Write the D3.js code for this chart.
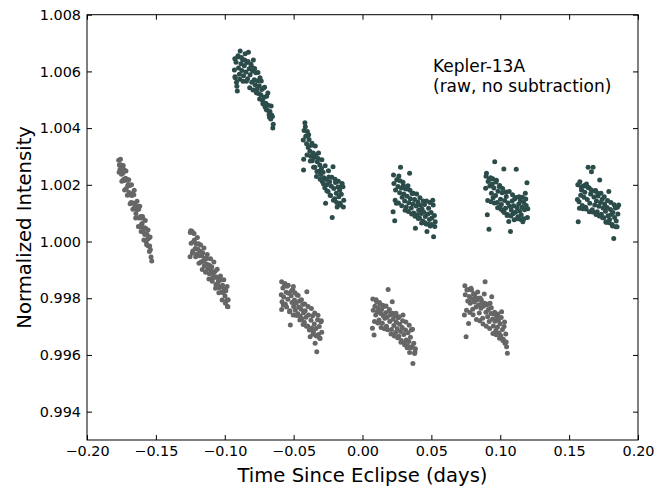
<!DOCTYPE html>
<html lang="en">
<head>
<meta charset="utf-8">
<title>Kepler-13A light curve</title>
<script src="https://cdn.jsdelivr.net/npm/d3@7"></script>
<style>
    body { margin: 0; background: #fff; }
    svg text { font-family: "DejaVu Sans", sans-serif; fill: #000; }
    .tick line { stroke: #000; }
</style>
</head>
<body>
<script>
// grey segments - [time since eclipse (days), normalized intensity]
var gray1 = [[-0.1770,1.00287],[-0.1765,1.00270],[-0.1760,1.00255],[-0.1755,1.00271],[-0.1750,1.00237],[-0.1745,1.00262],[-0.1740,1.00241],[-0.1735,1.00219],[-0.1730,1.00253],[-0.1725,1.00215],[-0.1720,1.00223],[-0.1715,1.00186],[-0.1710,1.00219],[-0.1705,1.00196],[-0.1700,1.00201],[-0.1695,1.00173],[-0.1690,1.00198],[-0.1685,1.00165],[-0.1680,1.00138],[-0.1675,1.00162],[-0.1670,1.00169],[-0.1665,1.00136],[-0.1660,1.00165],[-0.1655,1.00119],[-0.1650,1.00128],[-0.1645,1.00099],[-0.1640,1.00125],[-0.1635,1.00113],[-0.1630,1.00084],[-0.1625,1.00114],[-0.1620,1.00083],[-0.1615,1.00051],[-0.1610,1.00088],[-0.1605,1.00060],[-0.1600,1.00064],[-0.1595,1.00082],[-0.1590,1.00033],[-0.1585,1.00049],[-0.1580,1.00025],[-0.1575,1.00047],[-0.1570,0.99999],[-0.1565,1.00026],[-0.1560,1.00009],[-0.1555,0.99984],[-0.1550,1.00012],[-0.1545,0.99984],[-0.1540,0.99971],[-0.1535,0.99945],[-0.1530,0.99931],
    [-0.1767,1.00244],[-0.1757,1.00290],[-0.1747,1.00213],[-0.1737,1.00268],[-0.1727,1.00182],[-0.1717,1.00249],[-0.1707,1.00163],[-0.1697,1.00218],[-0.1687,1.00133],[-0.1677,1.00200],[-0.1667,1.00114],[-0.1657,1.00181],[-0.1647,1.00083],[-0.1637,1.00142],[-0.1627,1.00053],[-0.1617,1.00124],[-0.1607,1.00035],[-0.1597,1.00088],[-0.1587,1.00005],[-0.1577,1.00074],[-0.1567,0.99989],[-0.1557,1.00041],[-0.1547,0.99965],[-0.1542,1.00016]];
var gray2 = [[-0.1252,0.99946],[-0.1250,1.00032],[-0.1244,0.99994],[-0.1238,1.00036],[-0.1232,0.99967],[-0.1226,1.00000],[-0.1220,1.00005],[-0.1214,0.99975],[-0.1208,0.99992],[-0.1202,0.99956],[-0.1196,0.99974],[-0.1190,0.99992],[-0.1184,0.99950],[-0.1178,0.99966],[-0.1172,0.99928],[-0.1166,0.99950],[-0.1160,0.99960],[-0.1154,0.99933],[-0.1148,0.99915],[-0.1142,0.99941],[-0.1136,0.99922],[-0.1130,0.99940],[-0.1124,0.99903],[-0.1118,0.99918],[-0.1112,0.99886],[-0.1106,0.99914],[-0.1100,0.99896],[-0.1094,0.99910],[-0.1088,0.99873],[-0.1082,0.99887],[-0.1076,0.99873],[-0.1070,0.99895],[-0.1064,0.99848],[-0.1058,0.99875],[-0.1052,0.99852],[-0.1046,0.99862],[-0.1040,0.99837],[-0.1034,0.99863],[-0.1028,0.99841],[-0.1022,0.99821],[-0.1016,0.99846],[-0.1010,0.99820],[-0.1004,0.99832],[-0.0998,0.99808],[-0.0992,0.99826],[-0.0986,0.99792],[-0.0980,0.99771],[-0.0975,0.99795],
    [-0.1247,1.00038],[-0.1235,0.99959],[-0.1223,1.00028],[-0.1211,0.99946],[-0.1199,1.00014],[-0.1187,0.99923],[-0.1175,0.99988],[-0.1163,0.99901],[-0.1151,0.99977],[-0.1139,0.99892],[-0.1127,0.99954],[-0.1115,0.99868],[-0.1103,0.99939],[-0.1091,0.99860],[-0.1079,0.99928],[-0.1067,0.99835],[-0.1055,0.99902],[-0.1043,0.99819],[-0.1031,0.99878],[-0.1019,0.99794],[-0.1007,0.99865],[-0.0995,0.99782],[-0.0983,0.99841],[-0.0977,0.99770]];
var gray3 = [[-0.0590,0.99812],[-0.0587,0.99760],[-0.0584,0.99788],[-0.0578,0.99836],[-0.0572,0.99804],[-0.0566,0.99847],[-0.0560,0.99779],[-0.0554,0.99821],[-0.0548,0.99842],[-0.0542,0.99796],[-0.0536,0.99818],[-0.0530,0.99752],[-0.0524,0.99706],[-0.0518,0.99809],[-0.0512,0.99785],[-0.0506,0.99830],[-0.0502,0.99841],[-0.0500,0.99771],[-0.0494,0.99794],[-0.0488,0.99758],[-0.0482,0.99783],[-0.0476,0.99812],[-0.0470,0.99745],[-0.0464,0.99769],[-0.0458,0.99790],[-0.0452,0.99737],[-0.0446,0.99761],[-0.0440,0.99728],[-0.0434,0.99778],[-0.0428,0.99749],[-0.0422,0.99715],[-0.0416,0.99756],[-0.0410,0.99733],[-0.0404,0.99823],[-0.0398,0.99702],[-0.0392,0.99741],[-0.0386,0.99689],[-0.0380,0.99664],[-0.0374,0.99722],[-0.0368,0.99695],[-0.0362,0.99738],[-0.0356,0.99681],[-0.0350,0.99709],[-0.0344,0.99641],[-0.0338,0.99693],[-0.0332,0.99611],[-0.0326,0.99724],[-0.0320,0.99672],[-0.0314,0.99700],[-0.0308,0.99658],[-0.0302,0.99717],[-0.0296,0.99680],
    [-0.0587,0.99858],[-0.0575,0.99776],[-0.0563,0.99852],[-0.0551,0.99769],[-0.0539,0.99846],[-0.0527,0.99756],[-0.0515,0.99826],[-0.0503,0.99741],[-0.0491,0.99819],[-0.0479,0.99739],[-0.0467,0.99810],[-0.0455,0.99723],[-0.0443,0.99795],[-0.0431,0.99707],[-0.0419,0.99780],[-0.0407,0.99701],[-0.0395,0.99771],[-0.0383,0.99688],[-0.0371,0.99764],[-0.0359,0.99673],[-0.0347,0.99748],[-0.0335,0.99667],[-0.0323,0.99740],[-0.0311,0.99660],[-0.0299,0.99721]];
var gray4 = [[0.0072,0.99694],[0.0078,0.99758],[0.0084,0.99670],[0.0090,0.99772],[0.0096,0.99741],[0.0102,0.99788],[0.0108,0.99752],[0.0114,0.99765],[0.0120,0.99723],[0.0126,0.99779],[0.0132,0.99746],[0.0138,0.99760],[0.0144,0.99712],[0.0150,0.99738],[0.0156,0.99771],[0.0162,0.99729],[0.0168,0.99749],[0.0174,0.99701],[0.0180,0.99733],[0.0186,0.99831],[0.0192,0.99755],[0.0198,0.99718],[0.0204,0.99742],[0.0210,0.99690],[0.0216,0.99788],[0.0222,0.99726],[0.0228,0.99704],[0.0234,0.99737],[0.0240,0.99679],[0.0246,0.99715],[0.0252,0.99692],[0.0258,0.99731],[0.0264,0.99666],[0.0270,0.99708],[0.0276,0.99683],[0.0282,0.99651],[0.0288,0.99697],[0.0294,0.99741],[0.0300,0.99672],[0.0306,0.99636],[0.0312,0.99688],[0.0318,0.99653],[0.0324,0.99625],[0.0330,0.99678],[0.0336,0.99647],[0.0342,0.99609],[0.0348,0.99662],[0.0354,0.99688],[0.0360,0.99630],[0.0366,0.99570],[0.0372,0.99641],[0.0378,0.99605],[0.0384,0.99622],
    [0.0075,0.99797],[0.0087,0.99718],[0.0099,0.99795],[0.0111,0.99713],[0.0123,0.99785],[0.0135,0.99697],[0.0147,0.99775],[0.0159,0.99692],[0.0171,0.99773],[0.0183,0.99689],[0.0195,0.99760],[0.0207,0.99674],[0.0219,0.99747],[0.0231,0.99667],[0.0243,0.99747],[0.0255,0.99661],[0.0267,0.99735],[0.0279,0.99645],[0.0291,0.99721],[0.0303,0.99642],[0.0315,0.99716],[0.0327,0.99632],[0.0339,0.99705],[0.0351,0.99625],[0.0363,0.99691],[0.0381,0.99610]];
var gray5 = [[0.0740,0.99741],[0.0746,0.99812],[0.0752,0.99664],[0.0758,0.99829],[0.0764,0.99790],[0.0770,0.99711],[0.0776,0.99806],[0.0782,0.99782],[0.0788,0.99835],[0.0794,0.99798],[0.0800,0.99761],[0.0806,0.99815],[0.0812,0.99787],[0.0818,0.99803],[0.0824,0.99769],[0.0830,0.99794],[0.0836,0.99822],[0.0842,0.99776],[0.0848,0.99748],[0.0854,0.99801],[0.0860,0.99765],[0.0866,0.99784],[0.0872,0.99729],[0.0878,0.99772],[0.0884,0.99815],[0.0890,0.99858],[0.0896,0.99751],[0.0902,0.99777],[0.0908,0.99735],[0.0914,0.99760],[0.0920,0.99718],[0.0926,0.99782],[0.0932,0.99746],[0.0938,0.99805],[0.0944,0.99727],[0.0950,0.99702],[0.0956,0.99744],[0.0962,0.99719],[0.0968,0.99686],[0.0974,0.99735],[0.0980,0.99698],[0.0986,0.99722],[0.0992,0.99677],[0.0998,0.99710],[0.1004,0.99668],[0.1010,0.99752],[0.1016,0.99690],[0.1022,0.99655],[0.1028,0.99700],[0.1034,0.99641],[0.1040,0.99674],[0.1046,0.99629],[0.1052,0.99606],
    [0.0743,0.99844],[0.0755,0.99758],[0.0767,0.99831],[0.0779,0.99750],[0.0791,0.99829],[0.0803,0.99742],[0.0815,0.99815],[0.0827,0.99725],[0.0839,0.99800],[0.0851,0.99721],[0.0863,0.99794],[0.0875,0.99709],[0.0887,0.99782],[0.0899,0.99701],[0.0911,0.99780],[0.0923,0.99693],[0.0935,0.99766],[0.0947,0.99676],[0.0959,0.99751],[0.0971,0.99671],[0.0983,0.99744],[0.0995,0.99659],[0.1007,0.99732],[0.1019,0.99651],[0.1031,0.99716],[0.1043,0.99646]];

// dark teal segments
var teal1 = [[-0.0930,1.00605],[-0.0926,1.00581],[-0.0924,1.00578],[-0.0918,1.00632],[-0.0912,1.00548],[-0.0909,1.00531],[-0.0906,1.00651],[-0.0900,1.00612],[-0.0894,1.00590],[-0.0888,1.00672],[-0.0882,1.00627],[-0.0876,1.00603],[-0.0870,1.00641],[-0.0864,1.00585],[-0.0858,1.00620],[-0.0852,1.00662],[-0.0846,1.00598],[-0.0840,1.00631],[-0.0834,1.00574],[-0.0828,1.00668],[-0.0822,1.00609],[-0.0816,1.00588],[-0.0810,1.00625],[-0.0804,1.00562],[-0.0798,1.00601],[-0.0792,1.00640],[-0.0786,1.00571],[-0.0780,1.00553],[-0.0774,1.00595],[-0.0768,1.00537],[-0.0762,1.00567],[-0.0756,1.00522],[-0.0750,1.00549],[-0.0744,1.00578],[-0.0738,1.00518],[-0.0732,1.00536],[-0.0726,1.00497],[-0.0720,1.00541],[-0.0714,1.00509],[-0.0708,1.00475],[-0.0702,1.00488],[-0.0696,1.00512],[-0.0690,1.00463],[-0.0684,1.00481],[-0.0678,1.00448],[-0.0672,1.00459],[-0.0666,1.00432],[-0.0660,1.00446],[-0.0654,1.00441],[-0.0648,1.00414],
    [-0.0927,1.00645],[-0.0915,1.00562],[-0.0903,1.00655],[-0.0891,1.00572],[-0.0879,1.00649],[-0.0867,1.00565],[-0.0855,1.00640],[-0.0843,1.00565],[-0.0831,1.00635],[-0.0819,1.00542],[-0.0807,1.00618],[-0.0795,1.00534],[-0.0783,1.00610],[-0.0771,1.00525],[-0.0759,1.00596],[-0.0747,1.00503],[-0.0735,1.00566],[-0.0723,1.00486],[-0.0711,1.00544],[-0.0699,1.00466],[-0.0687,1.00524],[-0.0675,1.00438],[-0.0663,1.00478],[-0.0651,1.00400]];
var teal2 = [[-0.0430,1.00358],[-0.0428,1.00252],[-0.0424,1.00392],[-0.0418,1.00419],[-0.0412,1.00371],[-0.0406,1.00345],[-0.0400,1.00388],[-0.0394,1.00332],[-0.0388,1.00360],[-0.0382,1.00318],[-0.0376,1.00301],[-0.0370,1.00340],[-0.0364,1.00285],[-0.0358,1.00312],[-0.0352,1.00296],[-0.0346,1.00262],[-0.0340,1.00305],[-0.0334,1.00229],[-0.0328,1.00281],[-0.0322,1.00293],[-0.0316,1.00248],[-0.0310,1.00270],[-0.0304,1.00236],[-0.0298,1.00258],[-0.0292,1.00212],[-0.0286,1.00244],[-0.0280,1.00225],[-0.0274,1.00190],[-0.0268,1.00135],[-0.0262,1.00219],[-0.0256,1.00201],[-0.0250,1.00176],[-0.0244,1.00228],[-0.0238,1.00211],[-0.0232,1.00162],[-0.0226,1.00195],[-0.0220,1.00085],[-0.0214,1.00264],[-0.0208,1.00187],[-0.0202,1.00151],[-0.0196,1.00208],[-0.0190,1.00170],[-0.0184,1.00122],[-0.0178,1.00192],[-0.0172,1.00158],[-0.0166,1.00181],[-0.0160,1.00129],[-0.0154,1.00167],[-0.0148,1.00205],[-0.0142,1.00193],[-0.0136,1.00146],
    [-0.0427,1.00290],[-0.0415,1.00405],[-0.0403,1.00305],[-0.0391,1.00377],[-0.0379,1.00284],[-0.0367,1.00347],[-0.0355,1.00262],[-0.0343,1.00337],[-0.0331,1.00247],[-0.0319,1.00312],[-0.0307,1.00220],[-0.0295,1.00288],[-0.0283,1.00203],[-0.0271,1.00267],[-0.0259,1.00179],[-0.0247,1.00250],[-0.0235,1.00163],[-0.0223,1.00227],[-0.0211,1.00146],[-0.0199,1.00220],[-0.0187,1.00138],[-0.0175,1.00213],[-0.0163,1.00135],[-0.0151,1.00196],[-0.0139,1.00122]];
var teal3 = [[0.0222,1.00105],[0.0228,1.00205],[0.0234,1.00073],[0.0240,1.00182],[0.0246,1.00135],[0.0252,1.00218],[0.0258,1.00194],[0.0264,1.00231],[0.0270,1.00172],[0.0276,1.00262],[0.0282,1.00189],[0.0288,1.00156],[0.0294,1.00209],[0.0300,1.00168],[0.0306,1.00143],[0.0312,1.00186],[0.0318,1.00122],[0.0324,1.00160],[0.0330,1.00197],[0.0336,1.00137],[0.0342,1.00241],[0.0348,1.00151],[0.0354,1.00118],[0.0360,1.00169],[0.0366,1.00132],[0.0372,1.00101],[0.0378,1.00148],[0.0384,1.00047],[0.0390,1.00125],[0.0396,1.00094],[0.0402,1.00139],[0.0408,1.00110],[0.0414,1.00083],[0.0420,1.00128],[0.0426,1.00099],[0.0432,1.00115],[0.0438,1.00072],[0.0444,1.00104],[0.0450,1.00131],[0.0456,1.00088],[0.0462,1.00062],[0.0468,1.00035],[0.0474,1.00097],[0.0480,1.00117],[0.0486,1.00078],[0.0492,1.00055],[0.0498,1.00102],[0.0504,1.00083],[0.0510,1.00146],[0.0516,1.00017],[0.0522,1.00092],[0.0528,1.00070],
    [0.0225,1.00235],[0.0237,1.00146],[0.0249,1.00218],[0.0261,1.00136],[0.0273,1.00214],[0.0285,1.00126],[0.0297,1.00198],[0.0309,1.00110],[0.0321,1.00185],[0.0333,1.00106],[0.0345,1.00181],[0.0357,1.00097],[0.0369,1.00170],[0.0381,1.00089],[0.0393,1.00168],[0.0405,1.00081],[0.0417,1.00154],[0.0429,1.00065],[0.0441,1.00143],[0.0453,1.00066],[0.0465,1.00143],[0.0477,1.00061],[0.0489,1.00138],[0.0501,1.00060],[0.0513,1.00129],[0.0525,1.00053]];
var teal4 = [[0.0894,1.00188],[0.0900,1.00241],[0.0906,1.00094],[0.0912,1.00212],[0.0918,1.00043],[0.0924,1.00196],[0.0930,1.00225],[0.0936,1.00170],[0.0942,1.00203],[0.0948,1.00154],[0.0954,1.00189],[0.0960,1.00281],[0.0966,1.00162],[0.0972,1.00216],[0.0978,1.00138],[0.0984,1.00177],[0.0990,1.00120],[0.0996,1.00198],[0.1002,1.00149],[0.1008,1.00131],[0.1014,1.00172],[0.1020,1.00108],[0.1026,1.00256],[0.1032,1.00145],[0.1038,1.00117],[0.1044,1.00159],[0.1050,1.00092],[0.1056,1.00136],[0.1062,1.00071],[0.1068,1.00124],[0.1074,1.00035],[0.1080,1.00111],[0.1086,1.00143],[0.1092,1.00098],[0.1098,1.00126],[0.1104,1.00150],[0.1110,1.00103],[0.1116,1.00255],[0.1122,1.00119],[0.1128,1.00087],[0.1134,1.00132],[0.1140,1.00108],[0.1146,1.00145],[0.1152,1.00094],[0.1158,1.00121],[0.1164,1.00070],[0.1170,1.00138],[0.1176,1.00112],[0.1182,1.00170],[0.1188,1.00127],[0.1194,1.00207],[0.1200,1.00116],
    [0.0897,1.00230],[0.0909,1.00145],[0.0921,1.00220],[0.0933,1.00140],[0.0945,1.00221],[0.0957,1.00136],[0.0969,1.00210],[0.0981,1.00119],[0.0993,1.00194],[0.1005,1.00114],[0.1017,1.00187],[0.1029,1.00102],[0.1041,1.00175],[0.1053,1.00095],[0.1065,1.00176],[0.1077,1.00090],[0.1089,1.00165],[0.1101,1.00077],[0.1113,1.00155],[0.1125,1.00080],[0.1137,1.00158],[0.1149,1.00078],[0.1161,1.00156],[0.1173,1.00080],[0.1185,1.00150],[0.1197,1.00085]];
var teal5 = [[0.1560,1.00148],[0.1566,1.00070],[0.1572,1.00140],[0.1578,1.00211],[0.1584,1.00163],[0.1590,1.00182],[0.1596,1.00127],[0.1602,1.00195],[0.1608,1.00156],[0.1614,1.00174],[0.1620,1.00121],[0.1626,1.00203],[0.1632,1.00148],[0.1638,1.00262],[0.1644,1.00190],[0.1650,1.00135],[0.1656,1.00168],[0.1662,1.00246],[0.1668,1.00112],[0.1674,1.00262],[0.1680,1.00157],[0.1686,1.00129],[0.1692,1.00180],[0.1698,1.00143],[0.1704,1.00105],[0.1710,1.00161],[0.1716,1.00124],[0.1722,1.00217],[0.1728,1.00138],[0.1734,1.00096],[0.1740,1.00149],[0.1746,1.00118],[0.1752,1.00084],[0.1758,1.00132],[0.1764,1.00107],[0.1770,1.00068],[0.1776,1.00120],[0.1782,1.00091],[0.1788,1.00176],[0.1794,1.00078],[0.1800,1.00113],[0.1806,1.00095],[0.1812,1.00060],[0.1818,1.00102],[0.1824,1.00011],[0.1830,1.00085],[0.1836,1.00118],[0.1842,1.00072],[0.1848,1.00052],[0.1854,1.00097],[0.1860,1.00129],
    [0.1563,1.00200],[0.1575,1.00117],[0.1587,1.00193],[0.1599,1.00116],[0.1611,1.00198],[0.1623,1.00115],[0.1635,1.00191],[0.1647,1.00105],[0.1659,1.00183],[0.1671,1.00104],[0.1683,1.00178],[0.1695,1.00095],[0.1707,1.00170],[0.1719,1.00090],[0.1731,1.00170],[0.1743,1.00084],[0.1755,1.00158],[0.1767,1.00069],[0.1779,1.00145],[0.1791,1.00066],[0.1803,1.00138],[0.1815,1.00055],[0.1827,1.00130],[0.1839,1.00052],[0.1851,1.00121]];

var xTicks = [-0.20, -0.15, -0.10, -0.05, 0.00, 0.05, 0.10, 0.15, 0.20];
var yTicks = [0.994, 0.996, 0.998, 1.000, 1.002, 1.004, 1.006, 1.008];

var grayPts = [].concat(gray1, gray2, gray3, gray4, gray5);
var tealPts = [].concat(teal1, teal2, teal3, teal4, teal5);

var width = 670, height = 487;
var margin = {top: 14.7, right: 32, bottom: 47, left: 87};
var w = width - margin.left - margin.right;
var h = height - margin.top - margin.bottom;

var svg = d3.select("body").append("svg")
    .attr("width", width).attr("height", height);

var g = svg.append("g").attr("transform", "translate(" + margin.left + "," + margin.top + ")");

var x = d3.scaleLinear().domain([-0.2, 0.2]).range([0, w]);
var y = d3.scaleLinear().domain([0.993, 1.008]).range([h, 0]);

var minus = function(s) { return s.replace("-", "\u2212"); };

// points first, frame on top
g.selectAll("circle.gray").data(grayPts).enter().append("circle")
    .attr("class", "gray")
    .attr("cx", function(d) { return x(d[0]); })
    .attr("cy", function(d) { return y(d[1]); })
    .attr("r", 2.5)
    .style("fill", "#666666");

g.selectAll("circle.teal").data(tealPts).enter().append("circle")
    .attr("class", "teal")
    .attr("cx", function(d) { return x(d[0]); })
    .attr("cy", function(d) { return y(d[1]); })
    .attr("r", 2.5)
    .style("fill", "#2b4c4a");

// axes, ticks pointing inward on all four sides
var tk = 5;
g.append("g").attr("transform", "translate(0," + h + ")")
    .call(d3.axisBottom(x).tickValues(xTicks).tickSizeInner(-tk).tickSizeOuter(0).tickPadding(6)
        .tickFormat(function(d) { return minus(d3.format(".2f")(d)); }))
    .call(function(a) { a.select(".domain").remove(); a.selectAll("text").style("font-size", "14.4px"); });

g.append("g")
    .call(d3.axisTop(x).tickValues(xTicks).tickSizeInner(-tk).tickSizeOuter(0).tickFormat(""))
    .call(function(a) { a.select(".domain").remove(); });

g.append("g")
    .call(d3.axisLeft(y).tickValues(yTicks).tickSizeInner(-tk).tickSizeOuter(0).tickPadding(6)
        .tickFormat(d3.format(".3f")))
    .call(function(a) { a.select(".domain").remove(); a.selectAll("text").style("font-size", "14.4px"); });

g.append("g").attr("transform", "translate(" + w + ",0)")
    .call(d3.axisRight(y).tickValues(yTicks).tickSizeInner(-tk).tickSizeOuter(0).tickFormat(""))
    .call(function(a) { a.select(".domain").remove(); });

g.append("rect").attr("width", w).attr("height", h)
    .style("fill", "none").style("stroke", "#000").style("stroke-width", 1);

// labels
svg.append("text")
    .attr("x", margin.left + w / 2).attr("y", 482)
    .attr("text-anchor", "middle").style("font-size", "19.6px")
    .text("Time Since Eclipse (days)");

svg.append("text")
    .attr("transform", "translate(31," + (margin.top + h / 2) + ") rotate(-90)")
    .attr("text-anchor", "middle").style("font-size", "19.6px")
    .text("Normalized Intensity");

var note = svg.append("text").style("font-size", "17px");
note.append("tspan").attr("x", 433).attr("y", 72).text("Kepler-13A");
note.append("tspan").attr("x", 433).attr("y", 92).text("(raw, no subtraction)");
</script>
</body>
</html>
